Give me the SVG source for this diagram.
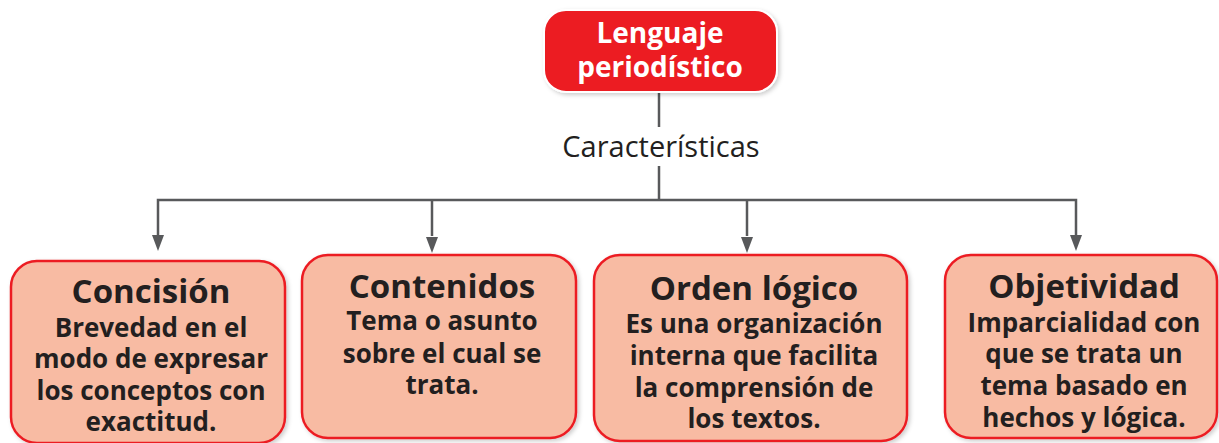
<svg xmlns="http://www.w3.org/2000/svg" width="1219" height="443" viewBox="0 0 1219 443">
<style>
.box{fill:#F8BBA3;stroke:#EC1C24;stroke-width:2.5}
.top{fill:#EC1C24;stroke:#ffffff;stroke-width:2}
.t{font-family:"Open Sans","Liberation Sans",sans-serif;font-weight:bold;fill:#231F20;text-anchor:middle}
.h{font-size:33px}
.s{font-size:26px}
.w{font-family:"Open Sans","Liberation Sans",sans-serif;font-weight:bold;fill:#ffffff;text-anchor:middle;font-size:28px}
.lbl{font-family:"Open Sans","Liberation Sans",sans-serif;fill:#231F20;text-anchor:middle;font-size:29px}
.ln{fill:none;stroke:#58595B;stroke-width:2.5}
</style>
<defs>
<filter id="sh" x="-5%" y="-5%" width="115%" height="115%">
<feDropShadow dx="2" dy="2" stdDeviation="2" flood-color="#000" flood-opacity="0.2"/>
</filter>
</defs>
<g id="connectors">
<line class="ln" x1="659" y1="92" x2="659" y2="127"/>
<line class="ln" x1="659" y1="166" x2="659" y2="200"/>
<polyline class="ln" points="158,236 158,200 1076,200 1076,236"/>
<line class="ln" x1="432" y1="200" x2="432" y2="236"/>
<line class="ln" x1="747" y1="200" x2="747" y2="236"/>
<path d="M152,235 L164,235 L158,251 Z" fill="#58595B"/>
<path d="M426,237 L438,237 L432,253 Z" fill="#58595B"/>
<path d="M741,237 L753,237 L747,253 Z" fill="#58595B"/>
<path d="M1070,235 L1082,235 L1076,251 Z" fill="#58595B"/>
<text class="lbl" x="661" y="157">Características</text>
</g>
<g id="lenguaje">
<rect class="top" x="544" y="10" width="233" height="82" rx="22" filter="url(#sh)"/>
<text class="w" x="660" y="43">Lenguaje</text>
<text class="w" x="660" y="77">periodístico</text>
</g>
<g id="concision">
<rect class="box" x="11" y="261" width="274" height="182" rx="26" filter="url(#sh)"/>
<text class="t h" x="151" y="303">Concisión</text>
<text class="t s" x="151" y="337">Brevedad en el</text>
<text class="t s" x="151" y="368">modo de expresar</text>
<text class="t s" x="151" y="400">los conceptos con</text>
<text class="t s" x="151" y="431">exactitud.</text>
</g>
<g id="contenidos">
<rect class="box" x="302" y="255" width="274" height="183" rx="26" filter="url(#sh)"/>
<text class="t h" x="442" y="298">Contenidos</text>
<text class="t s" x="442" y="330">Tema o asunto</text>
<text class="t s" x="442" y="363">sobre el cual se</text>
<text class="t s" x="442" y="394">trata.</text>
</g>
<g id="orden">
<rect class="box" x="594" y="255" width="313" height="186" rx="26" filter="url(#sh)"/>
<text class="t h" x="754" y="300">Orden lógico</text>
<text class="t s" x="754" y="333">Es una organización</text>
<text class="t s" x="754" y="365">interna que facilita</text>
<text class="t s" x="754" y="397">la comprensión de</text>
<text class="t s" x="754" y="428">los textos.</text>
</g>
<g id="objetividad">
<rect class="box" x="945" y="255" width="272" height="183" rx="26" filter="url(#sh)"/>
<text class="t h" x="1084" y="298">Objetividad</text>
<text class="t s" x="1084" y="332">Imparcialidad con</text>
<text class="t s" x="1084" y="363">que se trata un</text>
<text class="t s" x="1084" y="395">tema basado en</text>
<text class="t s" x="1084" y="427">hechos y lógica.</text>
</g>
</svg>
